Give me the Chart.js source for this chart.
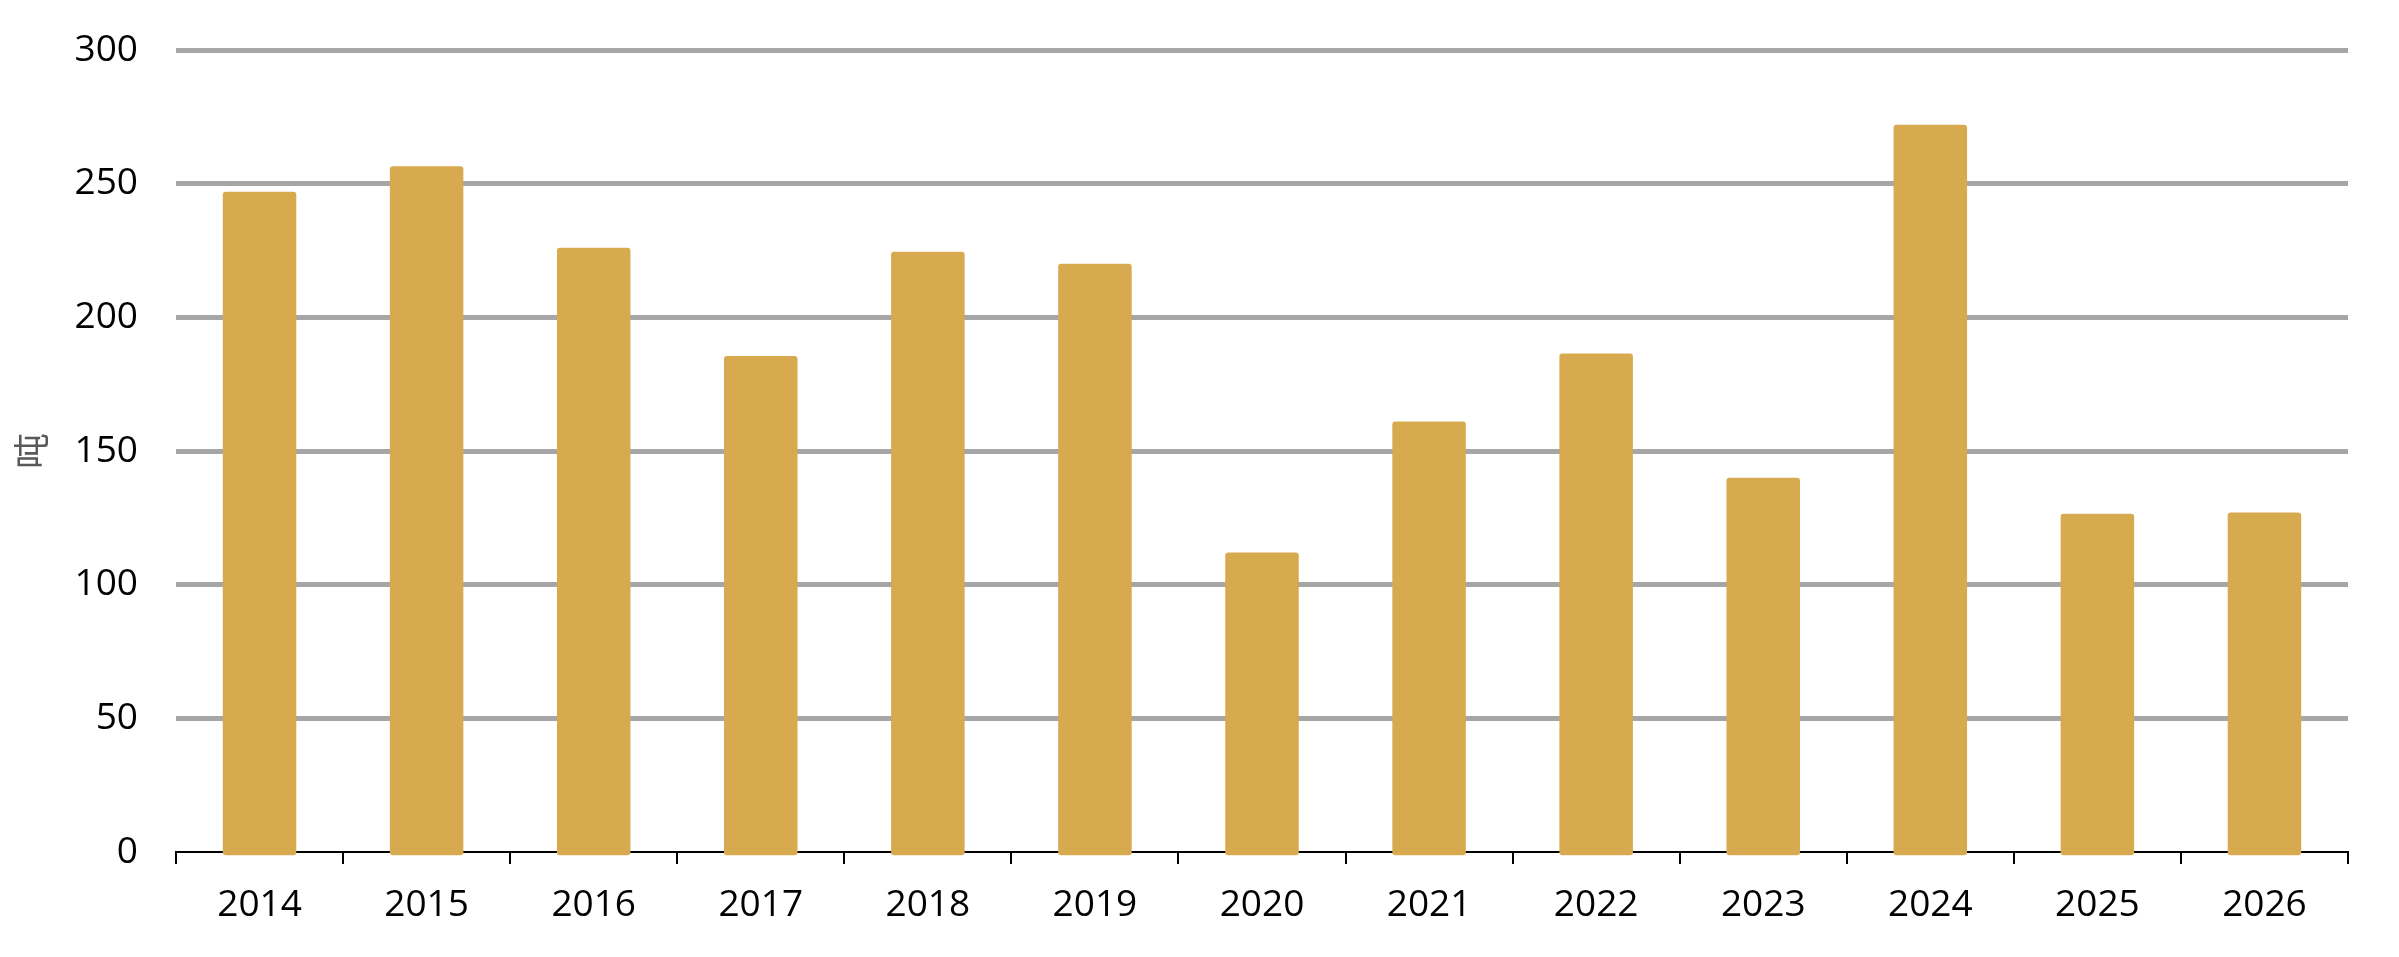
<!DOCTYPE html>
<html>
<head>
<meta charset="utf-8">
<script src="https://cdn.jsdelivr.net/npm/chart.js@4.4.1/dist/chart.umd.min.js"></script>
<style>
  html, body { margin: 0; padding: 0; background: #ffffff; }
  #wrap { width: 2399px; height: 957px; position: relative; }
</style>
</head>
<body>
<div id="wrap"><canvas id="c" width="2399" height="957"></canvas></div>
<script>
const categories = ['2014','2015','2016','2017','2018','2019','2020','2021','2022','2023','2024','2025','2026'];
const tonnes = [247, 256.5, 226, 185.5, 224.5, 220, 112, 161, 186.5, 140, 272, 126.5, 127];
const yTicks = [0, 50, 100, 150, 200, 250, 300];
const yTitle = '吨';

const ctx = document.getElementById('c').getContext('2d');
new Chart(ctx, {
  type: 'bar',
  data: {
    labels: categories,
    datasets: [{
      data: tonnes,
      backgroundColor: '#D8AA4F',
      borderWidth: 0,
      borderRadius: 3,
      borderSkipped: false,
      base: -1.2,
      clip: false,
      categoryPercentage: 1.0,
      barPercentage: 0.44
    }]
  },
  options: {
    responsive: false,
    devicePixelRatio: 1,
    animation: false,
    layout: { padding: { top: 50, right: 51, bottom: 0, left: 10 } },
    plugins: { legend: { display: false }, tooltip: { enabled: false } },
    scales: {
      x: {
        offset: true,
        afterFit: (s) => { s.height = 105; s.paddingLeft = 0; s.paddingRight = 0; },
        grid: {
          offset: true,
          drawOnChartArea: false,
          drawTicks: true,
          tickLength: 12,
          color: '#000000',
          lineWidth: 2
        },
        border: { display: true, color: '#000000', width: 2 },
        ticks: {
          color: '#000000',
          padding: 19,
          font: { family: '"Open Sans", "Noto Sans"', size: 37 }
        }
      },
      y: {
        min: 0,
        max: 300,
        afterBuildTicks: (scale) => { scale.ticks = yTicks.map(v => ({ value: v })); },
        afterFit: (s) => { s.width = 166; s.paddingTop = 0; s.paddingBottom = 0; },
        grid: {
          drawTicks: false,
          color: (c) => (c.tick && c.tick.value === 0) ? 'rgba(0,0,0,0)' : '#A6A6A6',
          lineWidth: 5
        },
        border: { display: false },
        ticks: {
          color: '#000000',
          padding: 38,
          font: { family: '"Open Sans", "Noto Sans"', size: 37 }
        },
        title: {
          display: true,
          text: yTitle,
          color: '#595959',
          padding: { top: 0, bottom: 0 },
          font: { family: '"Noto Sans CJK SC"', size: 36 }
        }
      }
    }
  }
});
</script>
</body>
</html>
